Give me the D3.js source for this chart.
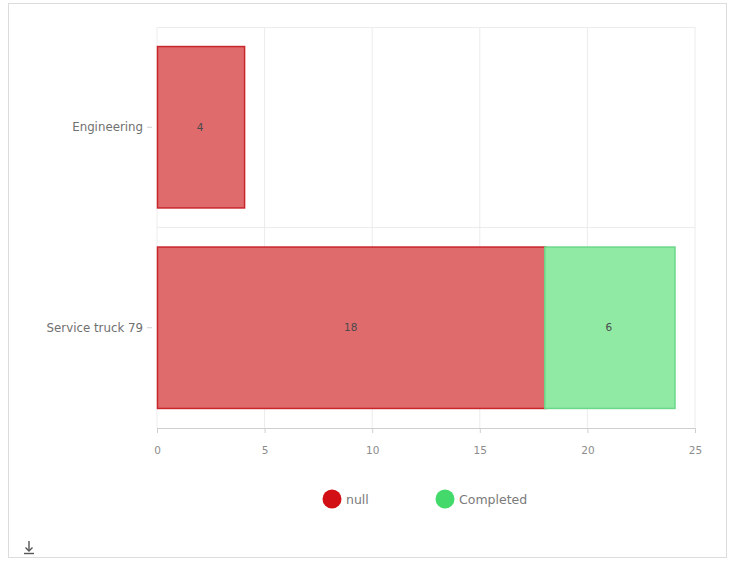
<!DOCTYPE html>
<html>
<head>
<meta charset="utf-8">
<script src="https://cdn.jsdelivr.net/npm/d3@7"></script>
<style>
  body { margin: 0; background: #fff; }
  svg text { font-family: "DejaVu Sans", Verdana, sans-serif; }
</style>
</head>
<body>
<svg id="chart" width="730" height="562"></svg>
<script>
// categories and series
const categories = ['Engineering', 'Service truck 79'];
const seriesNames = ['null', 'Completed'];
const nullValues = [4, 18];
const completedValues = [0, 6];
const xTicks = [0, 5, 10, 15, 20, 25];

const fills = { 'null': '#e06b6d', 'Completed': '#90eaa4' };
const strokes = { 'null': '#c8262b', 'Completed': '#6ad888' };
const legendColors = { 'null': '#d10f14', 'Completed': '#43d96b' };

const svg = d3.select('#chart');

// outer frame
svg.append('rect')
  .attr('x', 8.5).attr('y', 3.5)
  .attr('width', 718).attr('height', 554)
  .attr('fill', 'none').attr('stroke', '#dcdcdc');

const margin = { top: 27, left: 157 };
const width = 538, height = 401;
const g = svg.append('g').attr('transform', `translate(${margin.left},${margin.top})`);

const x = d3.scaleLinear().domain([0, 25]).range([0, width]);
const y = d3.scaleBand().domain(categories).range([0, height]).paddingInner(0.19).paddingOuter(0.095);

// gridlines
g.selectAll('.vgrid').data(xTicks).enter().append('line')
  .attr('x1', d => x(d)).attr('x2', d => x(d))
  .attr('y1', 0).attr('y2', height)
  .attr('stroke', '#ececec');
g.append('line').attr('x1', 0).attr('x2', width).attr('y1', 0.5).attr('y2', 0.5).attr('stroke', '#ececec');
g.append('line').attr('x1', 0).attr('x2', width).attr('y1', height / 2).attr('y2', height / 2).attr('stroke', '#ececec');

// stacked data
const rows = categories.map((c, i) => ({ cat: c, 'null': nullValues[i], 'Completed': completedValues[i] }));
const stack = d3.stack().keys(seriesNames)(rows);

stack.forEach(layer => {
  const key = layer.key;
  const seg = g.selectAll('.seg-' + key).data(layer.filter(d => d[1] - d[0] > 0)).enter();
  seg.append('rect')
    .attr('x', d => x(d[0]) + 0.5)
    .attr('y', d => y(d.data.cat) + 0.5)
    .attr('width', d => x(d[1]) - x(d[0]) + 1)
    .attr('height', y.bandwidth() - 1)
    .attr('fill', fills[key])
    .attr('stroke', strokes[key])
    .attr('stroke-width', 1.5);
  seg.append('text')
    .attr('x', d => (x(d[0]) + x(d[1])) / 2)
    .attr('y', d => y(d.data.cat) + y.bandwidth() / 2)
    .attr('dy', '0.35em')
    .attr('text-anchor', 'middle')
    .attr('font-size', 10.5)
    .attr('fill', '#4a4a4a')
    .text(d => d[1] - d[0]);
});

// x axis
const xAxis = g.append('g')
  .attr('transform', `translate(0,${height})`)
  .call(d3.axisBottom(x).tickValues(xTicks).tickSize(5).tickPadding(14));
xAxis.select('.domain').attr('stroke', '#cfcfcf');
xAxis.selectAll('.tick line').attr('stroke', '#cfcfcf');
xAxis.selectAll('.tick text').attr('fill', '#8c8c8c').attr('font-size', 10.5);

// y axis
const yAxis = g.append('g')
  .attr('transform', 'translate(-5,0)')
  .call(d3.axisLeft(y).tickSize(5).tickPadding(4));
yAxis.select('.domain').remove();
yAxis.selectAll('.tick line').attr('stroke', '#cfcfcf');
yAxis.selectAll('.tick text').attr('fill', '#707070').attr('font-size', 11.8);

// legend
const legendX = [332, 445];
const legend = svg.append('g');
seriesNames.forEach((name, i) => {
  legend.append('circle')
    .attr('cx', legendX[i]).attr('cy', 499).attr('r', 9.5)
    .attr('fill', legendColors[name]);
  legend.append('text')
    .attr('x', legendX[i] + 14).attr('y', 500).attr('dy', '0.35em')
    .attr('font-size', 12.5).attr('fill', '#7a7a7a')
    .text(name);
});

// download icon
const icon = svg.append('g').attr('stroke', '#555').attr('stroke-width', 1.4).attr('fill', 'none');
icon.append('line').attr('x1', 29).attr('x2', 29).attr('y1', 541).attr('y2', 551);
icon.append('path').attr('d', 'M25.5,547.5 L29,551 L32.5,547.5');
icon.append('line').attr('x1', 24).attr('x2', 34).attr('y1', 553.5).attr('y2', 553.5);
</script>
</body>
</html>
